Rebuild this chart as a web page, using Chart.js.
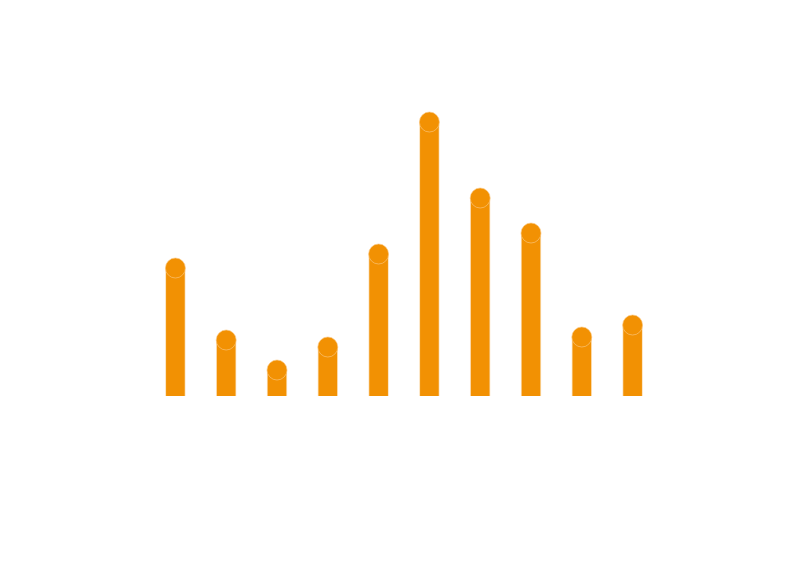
<!DOCTYPE html>
<html>
<head>
<meta charset="utf-8">
<script src="https://cdn.jsdelivr.net/npm/chart.js@4"></script>
<style>
html,body{margin:0;padding:0;background:#fff;}
#wrap{width:800px;height:570px;position:relative;}
</style>
</head>
<body>
<div id="wrap"><canvas id="c" width="800" height="570"></canvas></div>
<script>
const categories = ['1','2','3','4','5','6','7','8','9','10'];
const values = [128, 56, 26, 49, 142, 274, 198, 163, 59, 71];
const yMax = 300;

const orange = '#F29103';
const capStroke = 'rgba(250,200,130,0.8)';

new Chart(document.getElementById('c'), {
  type: 'bar',
  data: {
    labels: categories,
    datasets: [
      {
        type: 'line',
        data: values,
        showLine: false,
        pointStyle: 'circle',
        pointRadius: 10,
        pointBackgroundColor: orange,
        pointBorderColor: capStroke,
        pointBorderWidth: 0.8,
        order: 0
      },
      {
        type: 'bar',
        data: values,
        backgroundColor: orange,
        borderColor: 'rgba(250,200,130,0.5)',
        borderWidth: {left: 1, right: 1, top: 0, bottom: 0},
        borderSkipped: false,
        barThickness: 20,
        order: 1
      }
    ]
  },
  options: {
    responsive: false,
    animation: false,
    events: [],
    layout: { padding: { left: 150, right: 142, top: 96, bottom: 174 } },
    plugins: { legend: { display: false }, tooltip: { enabled: false } },
    scales: {
      x: { display: false, offset: true },
      y: { display: false, min: 0, max: yMax }
    }
  }
});
</script>
</body>
</html>
